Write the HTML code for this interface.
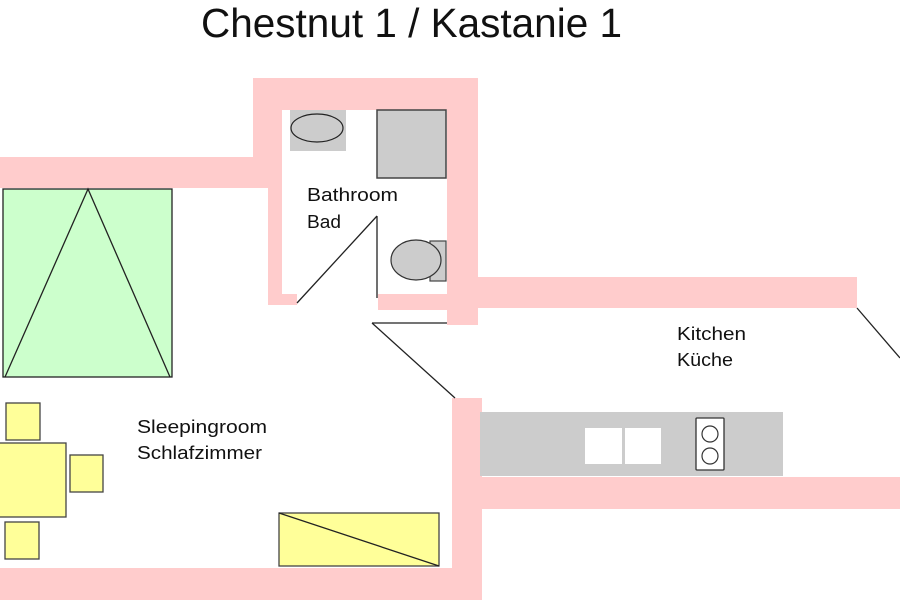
<!DOCTYPE html>
<html><head><meta charset="utf-8"><style>html,body{margin:0;padding:0;background:#fff}svg{display:block}</style></head>
<body>
<svg width="900" height="600" viewBox="0 0 900 600" xmlns="http://www.w3.org/2000/svg" font-family="Liberation Sans, sans-serif">
<g fill="#ffcccc">
<rect x="253" y="78" width="225" height="32"/>
<rect x="253" y="78" width="29" height="110"/>
<rect x="0" y="157" width="282" height="31"/>
<rect x="268" y="157" width="14" height="148"/>
<rect x="268" y="294" width="29" height="11"/>
<rect x="378" y="294" width="100" height="16"/>
<rect x="447" y="78" width="31" height="247"/>
<rect x="447" y="277" width="410" height="31"/>
<rect x="452" y="398" width="30" height="202"/>
<rect x="482" y="477" width="418" height="32"/>
<rect x="0" y="568" width="482" height="32"/>
</g>
<text x="201" y="37" font-size="41" textLength="421" lengthAdjust="spacingAndGlyphs" fill="#111">Chestnut 1 / Kastanie 1</text>
<rect x="290" y="110" width="56" height="41" fill="#cccccc"/>
<ellipse cx="317" cy="128" rx="26" ry="14" fill="#cccccc" stroke="#222" stroke-width="1.2"/>
<rect x="377" y="110" width="69" height="68" fill="#cccccc" stroke="#444" stroke-width="1.5"/>
<rect x="430" y="241" width="16" height="40" fill="#cccccc" stroke="#444" stroke-width="1.2"/>
<ellipse cx="416" cy="260" rx="25" ry="20" fill="#cccccc" stroke="#333" stroke-width="1.2"/>
<g stroke="#222" stroke-width="1.3" fill="none">
<line x1="297" y1="303" x2="377" y2="216"/>
<line x1="377" y1="216" x2="377" y2="298"/>
<line x1="372" y1="323" x2="447" y2="323"/>
<line x1="372" y1="323" x2="455" y2="398"/>
<line x1="857" y1="308" x2="900" y2="358"/>
</g>
<g font-size="18" fill="#111" lengthAdjust="spacingAndGlyphs">
<text x="307" y="201" textLength="91" lengthAdjust="spacingAndGlyphs">Bathroom</text>
<text x="307" y="228" textLength="34" lengthAdjust="spacingAndGlyphs">Bad</text>
<text x="677" y="340" textLength="69" lengthAdjust="spacingAndGlyphs">Kitchen</text>
<text x="677" y="366" textLength="56" lengthAdjust="spacingAndGlyphs">Küche</text>
<text x="137" y="433" textLength="130" lengthAdjust="spacingAndGlyphs">Sleepingroom</text>
<text x="137" y="459" textLength="125" lengthAdjust="spacingAndGlyphs">Schlafzimmer</text>
</g>
<rect x="480" y="412" width="303" height="64" fill="#cccccc"/>
<rect x="585" y="428" width="37" height="36" fill="#fff"/>
<rect x="625" y="428" width="36" height="36" fill="#fff"/>
<rect x="696" y="418" width="28" height="52" fill="#fff" stroke="#333" stroke-width="1.3" rx="1"/>
<circle cx="710" cy="434" r="8" fill="#fff" stroke="#333" stroke-width="1.2"/>
<circle cx="710" cy="456" r="8" fill="#fff" stroke="#333" stroke-width="1.2"/>
<rect x="3" y="189" width="169" height="188" fill="#ccffcc" stroke="#222" stroke-width="1.3"/>
<polyline points="5,377 88,189 170,377" fill="none" stroke="#222" stroke-width="1.3"/>
<g fill="#ffff99" stroke="#444" stroke-width="1.3">
<rect x="-2" y="443" width="68" height="74"/>
<rect x="6" y="403" width="34" height="37"/>
<rect x="70" y="455" width="33" height="37"/>
<rect x="5" y="522" width="34" height="37"/>
<rect x="279" y="513" width="160" height="53"/>
</g>
<line x1="279" y1="513" x2="439" y2="566" stroke="#222" stroke-width="1.3"/>
</svg>
</body></html>
